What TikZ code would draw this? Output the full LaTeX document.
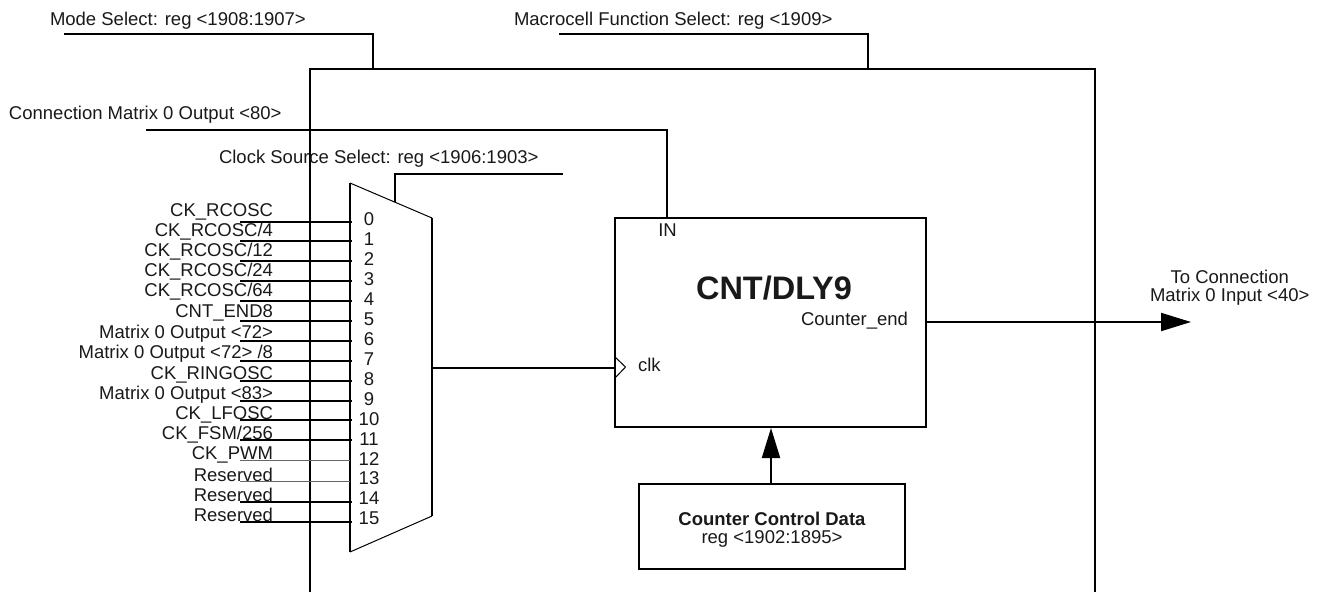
\documentclass[tikz,border=0pt]{standalone}
\usepackage{fontspec}
\setmainfont{Liberation Sans}
\usepackage{tikz}
\usetikzlibrary{arrows.meta, positioning, calc}

\begin{document}
\begin{tikzpicture}[
    x=1pt, y=-1pt,
    every node/.style = {font=\fontsize{18.5}{18}\selectfont, inner sep=0pt, outer sep=0pt, text=black!90},
    wire/.style     = {line width=2pt},
    thinwire/.style = {line width=1pt, draw=black!60},
    thinline/.style = {line width=1pt},
    block/.style    = {draw, line width=2pt, align=center},
    siglabel/.style = {anchor=east, text height=13pt, text depth=0pt},
    toplabel/.style = {anchor=west, text height=13pt, text depth=0pt},
    pinnum/.style   = {text height=13pt, text depth=0pt},
    fat/.style      = {-{Triangle[length=30pt,width=18pt]}}
]
    \useasboundingbox (0,0) rectangle (1322,592);

    % macrocell frame, open at the bottom
    \draw[wire] (310,592) |- (1095,69) -- (1095,592);

    % blocks
    \node[block, minimum width=311pt, minimum height=209pt] (cnt) at (770.5,322.5) {};
    \node[block, minimum width=266pt, minimum height=85pt] (ctrl) at (772,526.5) {};
    \node (cnttitle) at (774,288) {\fontsize{32.5}{32}\selectfont\bfseries CNT/DLY9};
    \node[pinnum] (inlabel) at (667.5,230) {IN};
    \node[siglabel] (cntend) at (908,319) {Counter\_end};
    \node[toplabel] (clklabel) at (638,365) {clk};
    \node[align=center] (ctrltext) at (772,530) {\textbf{Counter Control Data}\\reg <1902:1895>};
    \node[align=center] (outlabel) at (1229.7,287.5) {To Connection\\Matrix 0 Input <40>};

    % select and data labels along the top
    \node[toplabel] (modelabel) at (50,19) {Mode Select: reg <1908:1907>};
    \node[toplabel] (funclabel) at (514,19) {Macrocell Function Select: reg <1909>};
    \node[toplabel] (connlabel) at (9,113) {Connection Matrix 0 Output <80>};
    \node[toplabel] (clocklabel) at (219,157) {Clock Source Select: reg <1906:1903>};

    % mux outline
    \coordinate (muxtl) at (350,183);
    \coordinate (muxtr) at (432,218);
    \coordinate (muxbr) at (432,516);
    \coordinate (muxbl) at (350,552);
    \draw[thinline] (muxtl) -- (muxtr);
    \draw[thinline] (muxbl) -- (muxbr);
    \draw[line width=1.5pt] (muxtl) -- (muxbl);
    \draw[line width=1.5pt] (muxtr) -- (muxbr);

    % input labels
    \node[siglabel] (src0) at (273,210) {CK\_RCOSC};
    \node[siglabel] (src1) at (273,230) {CK\_RCOSC/4};
    \node[siglabel] (src2) at (273,250) {CK\_RCOSC/12};
    \node[siglabel] (src3) at (273,270) {CK\_RCOSC/24};
    \node[siglabel] (src4) at (273,290) {CK\_RCOSC/64};
    \node[siglabel] (src5) at (273,311) {CNT\_END8};
    \node[siglabel] (src6) at (273,332) {Matrix 0 Output <72>};
    \node[siglabel] (src7) at (273,352) {Matrix 0 Output <72> /8};
    \node[siglabel] (src8) at (273,372.5) {CK\_RINGOSC};
    \node[siglabel] (src9) at (273,392.5) {Matrix 0 Output <83>};
    \node[siglabel] (src10) at (273,413) {CK\_LFOSC};
    \node[siglabel] (src11) at (273,433) {CK\_FSM/256};
    \node[siglabel] (src12) at (273,453) {CK\_PWM};
    \node[siglabel] (src13) at (273,475) {Reserved};
    \node[siglabel] (src14) at (273,495) {Reserved};
    \node[siglabel] (src15) at (273,515) {Reserved};

    % pin numbers inside the mux
    \foreach \i/\y in {0/219, 1/239, 2/259, 3/279, 4/299, 5/319, 6/339, 7/359,
                       8/378.5, 9/398.5, 10/419, 11/439, 12/459, 13/478, 14/498, 15/518}
        \node[pinnum] (pin\i) at (369,\y) {\i};

    % input wires
    \foreach \i/\y in {0/222, 1/241, 2/261, 3/281, 4/301, 5/321, 6/341, 7/361,
                       8/381, 9/401, 10/420, 11/440, 14/502, 15/522} {
        \coordinate (wa\i) at (240,\y);
        \coordinate (wb\i) at (352,\y);
        \draw[wire] (wa\i) -- (wb\i);
    }
    \foreach \i/\y in {12/460, 13/481} {
        \coordinate (wa\i) at (240,\y);
        \coordinate (wb\i) at (350,\y);
        \draw[thinwire] (wa\i) -- (wb\i);
    }

    % select lines
    \coordinate (modeL) at (64,34);
    \coordinate (modeE) at (373,70);
    \draw[wire] (modeL) -| (modeE);
    \coordinate (funcL) at (559,34);
    \coordinate (funcE) at (868,70);
    \draw[wire] (funcL) -| (funcE);
    \coordinate (connL) at (146,130);
    \coordinate (cntin) at (667,218);
    \draw[wire] (connL) -| (cntin);
    \coordinate (clockL) at (563,174);
    \coordinate (muxsel) at (395,202);
    \draw[wire] (clockL) -| (muxsel);

    % clock into the counter
    \coordinate (muxout) at (432,368);
    \coordinate (clkpin) at (615,368);
    \coordinate (clkup) at (615,357);
    \coordinate (clktip) at (625.5,367);
    \coordinate (clkdn) at (615,378);
    \draw[wire] (muxout) -- (clkpin);
    \draw[thinline] (clkup) -- (clktip) -- (clkdn);

    % outputs
    \coordinate (outend) at (1191,322);
    \draw[wire, fat] (cnt.east |- outend) -- (outend);
    \draw[wire, fat] ($(ctrl.north)+(-1,0)$) -- ($(ctrl.north |- cnt.south)+(-1,1)$);
\end{tikzpicture}
\end{document}
